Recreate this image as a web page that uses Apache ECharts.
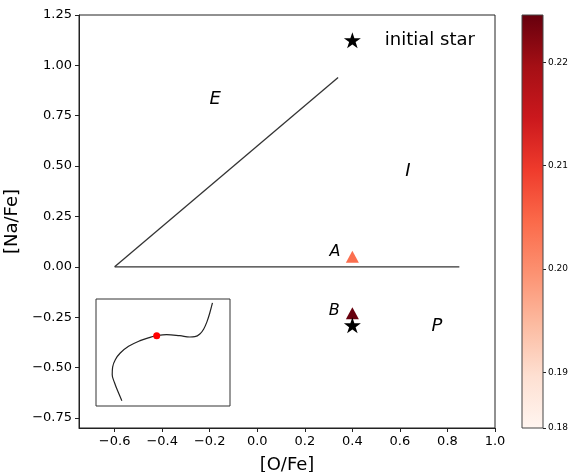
<!DOCTYPE html>
<html><head><meta charset="utf-8">
<script src="https://cdn.jsdelivr.net/npm/echarts@6/dist/echarts.min.js"></script>
<style>html,body{margin:0;padding:0;background:#fff}#c{width:569px;height:472px}</style>
</head><body><div id="c"></div>
<script>
// ---- data ----
const xTicks = [-0.6, -0.4, -0.2, 0.0, 0.2, 0.4, 0.6, 0.8, 1.0];
const yTicks = [-0.75, -0.5, -0.25, 0.0, 0.25, 0.5, 0.75, 1.0, 1.25];
const cbarTicks = [0.1846, 0.19, 0.20, 0.21, 0.22];
const cbarRange = [0.1846, 0.2246];
const lineEX = [-0.6, 0.34];
const lineEY = [0.0, 0.94];
const lineIX = [-0.6, 0.85];
const lineIY = [0.0, 0.0];
const triNames = ['A', 'B'];
const triX = [0.4, 0.4];
const triY = [0.05, -0.23];
const triC = [0.204, 0.2246];
const triLabelX = [0.327, 0.324];
const triLabelY = [0.075, -0.22];
const starNames = ['initial star', ''];
const starX = [0.4, 0.4];
const starY = [1.125, -0.29];
const regionNames = ['E', 'I', 'P'];
const regionX = [-0.177, 0.634, 0.756];
const regionY = [0.833, 0.475, -0.294];
const insetX = [0.193,0.163,0.139,0.121,0.124,0.144,0.181,0.243,0.329,0.403,0.453,0.527,0.626,0.700,0.738,0.775,0.804,0.829,0.849,0.869];
const insetY = [0.050,0.137,0.215,0.293,0.364,0.433,0.495,0.558,0.611,0.642,0.657,0.667,0.657,0.645,0.648,0.673,0.720,0.791,0.869,0.963];
const insetDotX = [0.453];
const insetDotY = [0.657];
const reds = ['#fff5f0','#fee0d2','#fcbba1','#fc9272','#fb6a4a','#ef3b2c','#cb181d','#a50f15','#67000d'];

// ---- helpers ----
function starPath() {
  let d = '';
  for (let i = 0; i < 10; i++) {
    const a = Math.PI / 2 + i * Math.PI / 5;
    const r = i % 2 === 0 ? 1 : 0.381966;
    const x = 50 + 50 * r * Math.cos(a);
    const y = 50 - 50 * r * Math.sin(a);
    d += (i === 0 ? 'M' : 'L') + x.toFixed(3) + ' ' + y.toFixed(3) + ' ';
  }
  return 'path://' + d + 'Z';
}
const fmt = (n) => (v) => { const s = Math.abs(v).toFixed(n); return (v < -1e-9 ? '\u2212' : '') + s; };
const FONT = 'DejaVu Sans';
const zip = (a, b, c) => a.map((v, i) => c ? [v, b[i], c[i]] : [v, b[i]]);

const chart = echarts.init(document.getElementById('c'), null, {renderer: 'canvas'});
const axisLineStyle = {color: '#222', width: 1};
const txt = (size, italic) => ({show: true, position: 'inside', formatter: '{b}', fontSize: size, fontStyle: italic ? 'italic' : 'normal', color: '#000', opacity: 1, fontFamily: FONT});
chart.setOption({
  animation: false,
  textStyle: {fontFamily: FONT},
  grid: [
    {left: 79, top: 15, width: 416, height: 413, outerBoundsMode: 'none', containLabel: false, show: true, borderColor: '#222', borderWidth: 1, backgroundColor: 'transparent'},
    {left: 522, top: 15, width: 21, height: 413, outerBoundsMode: 'none', containLabel: false, show: true, borderColor: '#444', borderWidth: 1, z: 5},
    {left: 96, top: 299, width: 134, height: 107, outerBoundsMode: 'none', containLabel: false, show: true, borderColor: '#333', borderWidth: 1, backgroundColor: '#fff', z: 10}
  ],
  xAxis: [
    {gridIndex: 0, type: 'value', min: -0.75, max: 1.0, name: '[O/Fe]', nameLocation: 'middle', nameGap: 28,
     nameTextStyle: {fontSize: 18, color: '#000', fontFamily: FONT},
     axisLine: {show: true, onZero: false, lineStyle: axisLineStyle}, splitLine: {show: false},
     axisTick: {show: true, length: 4, customValues: xTicks, lineStyle: axisLineStyle},
     axisLabel: {customValues: xTicks, formatter: fmt(1), fontSize: 13, color: '#000', margin: 7, fontFamily: FONT}},
    {gridIndex: 1, type: 'value', min: 0, max: 1, show: false},
    {gridIndex: 2, type: 'value', min: 0, max: 1, show: false}
  ],
  yAxis: [
    {gridIndex: 0, type: 'value', min: -0.8, max: 1.25, name: '[Na/Fe]', nameLocation: 'middle', nameGap: 47,
     nameTextStyle: {fontSize: 18, color: '#000', fontFamily: FONT},
     axisLine: {show: true, onZero: false, lineStyle: axisLineStyle}, splitLine: {show: false},
     axisTick: {show: true, length: 4, customValues: yTicks, lineStyle: axisLineStyle},
     axisLabel: {customValues: yTicks, formatter: fmt(2), fontSize: 13, color: '#000', margin: 7, fontFamily: FONT}},
    {gridIndex: 1, type: 'value', position: 'right', min: cbarRange[0], max: cbarRange[1],
     axisLine: {show: false, onZero: false}, splitLine: {show: false},
     axisTick: {show: true, length: 3, customValues: cbarTicks, lineStyle: {color: '#222', width: 1}},
     axisLabel: {customValues: cbarTicks, formatter: fmt(2), fontSize: 9, color: '#000', margin: 5, fontFamily: FONT}},
    {gridIndex: 2, type: 'value', min: 0, max: 1, show: false}
  ],
  visualMap: [{type: 'continuous', show: false, min: cbarRange[0], max: cbarRange[1], dimension: 2, seriesIndex: 4, inRange: {color: reds}}],
  series: [
    {type: 'line', xAxisIndex: 0, yAxisIndex: 0, data: zip(lineEX, lineEY), symbol: 'none', lineStyle: {color: '#333', width: 1.3}},
    {type: 'line', xAxisIndex: 0, yAxisIndex: 0, data: zip(lineIX, lineIY), symbol: 'none', lineStyle: {color: '#333', width: 1.3}},
    {type: 'scatter', xAxisIndex: 0, yAxisIndex: 0, symbolSize: 0, itemStyle: {opacity: 1},
     data: regionNames.map((n, i) => ({name: n, value: [regionX[i], regionY[i]]})),
     label: txt(18, true)},
    {type: 'scatter', xAxisIndex: 0, yAxisIndex: 0, symbolSize: 0, itemStyle: {opacity: 1},
     data: triNames.map((n, i) => ({name: n, value: [triLabelX[i], triLabelY[i]]})),
     label: txt(16, true)},
    {type: 'scatter', xAxisIndex: 0, yAxisIndex: 0, symbol: 'triangle', symbolSize: [13, 12],
     itemStyle: {opacity: 1},
     data: zip(triX, triY, triC)},
    {type: 'scatter', xAxisIndex: 0, yAxisIndex: 0, symbol: starPath(), symbolSize: [17, 16],
     itemStyle: {color: '#000', opacity: 1},
     data: starNames.map((n, i) => ({name: n, value: [starX[i], starY[i]]})),
     label: {show: true, position: 'right', distance: 24, formatter: '{b}', fontSize: 18, color: '#000', fontFamily: FONT}},
    {type: 'custom', xAxisIndex: 1, yAxisIndex: 1, z: 4,
     data: [[0, cbarRange[0], 1, cbarRange[1]]],
     renderItem: function (params, api) {
       const p0 = api.coord([api.value(0), api.value(1)]);
       const p1 = api.coord([api.value(2), api.value(3)]);
       return {type: 'rect', shape: {x: p0[0], y: p1[1], width: p1[0] - p0[0], height: p0[1] - p1[1]},
         style: {fill: new echarts.graphic.LinearGradient(0, 1, 0, 0, reds.map((c, i) => ({offset: i / (reds.length - 1), color: c})))}};
     }},
    {type: 'line', xAxisIndex: 2, yAxisIndex: 2, z: 11, data: zip(insetX, insetY), symbol: 'none', smooth: 0.4,
     lineStyle: {color: '#222', width: 1.2}},
    {type: 'scatter', xAxisIndex: 2, yAxisIndex: 2, z: 12, data: zip(insetDotX, insetDotY), symbolSize: 7,
     itemStyle: {color: '#ff0000', opacity: 1}}
  ]
});
</script></body></html>
